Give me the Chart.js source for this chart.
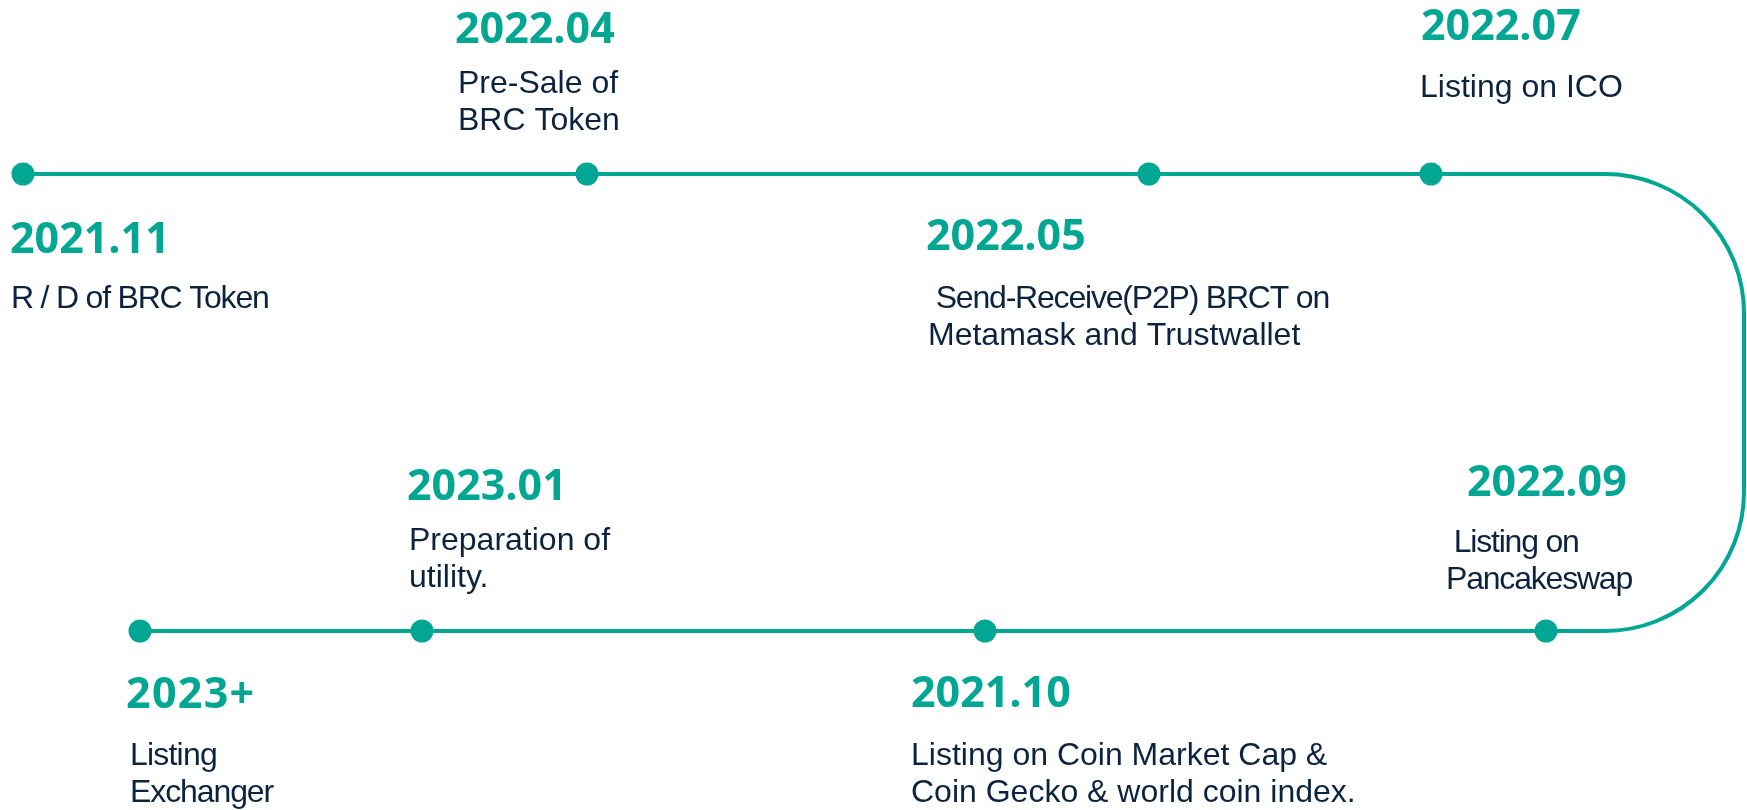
<!DOCTYPE html>
<html>
<head>
<meta charset="utf-8">
<script src="https://cdn.jsdelivr.net/npm/chart.js@4/dist/chart.umd.min.js"></script>
<style>
  html, body { margin: 0; padding: 0; background: #ffffff; }
  #wrap { width: 1747px; height: 810px; }
</style>
</head>
<body>
<div id="wrap"><canvas id="c" width="1747" height="810"></canvas></div>
<script>
// ---- data ----
const events = ['2021.11', '2022.04', '2022.05', '2022.07', '2022.09', '2021.10', '2023.01', '2023+'];
const descriptions = [
  ['R / D of BRC Token'],
  ['Pre-Sale of', 'BRC Token'],
  [' Send-Receive(P2P) BRCT on', 'Metamask and Trustwallet'],
  ['Listing on ICO'],
  [' Listing on', 'Pancakeswap'],
  ['Listing on Coin Market Cap &', 'Coin Gecko & world coin index.'],
  ['Preparation of', 'utility.'],
  ['Listing', 'Exchanger']
];
const timelinePos = [23, 587, 1149, 1431, 1546, 985, 422, 140];
const timelineRow = [174, 174, 174, 174, 631, 631, 631, 631];

// ---- layout (text placement, not data) ----
const yearAt = [[10, 253], [455, 43], [926, 250], [1421, 40], [1467, 496], [911, 707], [407, 500], [126, 708]];
const yearSpacing = [0, 0, 0, 0, 0, 0, 0, 1.3];
const descAt = [[11, 308], [458, 93], [928, 308], [1420, 97], [1446, 552], [911, 765], [409, 550], [130, 765]];
// letter spacing per description line
const descSpacing = [[-1.2], [0, 0], [-1.2, 0], [0], [-1.2, -1.2], [0, 0], [0, 0], [-0.8, -1.1]];
const lineGap = 37;
const turnRight = 1744;
const turnRadius = 139;

const TEAL = '#02a793';
const NAVY = '#0c2340';

const trackPlugin = {
  id: 'track',
  beforeDatasetsDraw(chart) {
    const { ctx, scales: { x, y } } = chart;
    const top = y.getPixelForValue(timelineRow[0]);
    const bot = y.getPixelForValue(timelineRow[timelineRow.length - 1]);
    const x0 = x.getPixelForValue(timelinePos[0]);
    const xEnd = x.getPixelForValue(timelinePos[timelinePos.length - 1]);
    const right = x.getPixelForValue(turnRight);
    const r = turnRadius;
    ctx.save();
    ctx.strokeStyle = TEAL;
    ctx.lineWidth = 4;
    ctx.lineJoin = 'round';
    ctx.beginPath();
    ctx.moveTo(x0, top);
    ctx.lineTo(right - r, top);
    ctx.arcTo(right, top, right, top + r, r);
    ctx.lineTo(right, bot - r);
    ctx.arcTo(right, bot, right - r, bot, r);
    ctx.lineTo(xEnd, bot);
    ctx.stroke();
    ctx.restore();
  }
};

const textPlugin = {
  id: 'texts',
  afterDatasetsDraw(chart) {
    const { ctx } = chart;
    ctx.save();
    ctx.textAlign = 'left';
    ctx.textBaseline = 'alphabetic';
    events.forEach((ev, i) => {
      ctx.letterSpacing = yearSpacing[i] + 'px';
      ctx.fillStyle = TEAL;
      ctx.font = 'bold 43px "Open Sans"';
      ctx.fillText(ev, yearAt[i][0], yearAt[i][1]);
      ctx.fillStyle = NAVY;
      ctx.font = '32px "Liberation Sans", Arial, sans-serif';
      descriptions[i].forEach((line, j) => {
        ctx.letterSpacing = descSpacing[i][j] + 'px';
        ctx.fillText(line, descAt[i][0], descAt[i][1] + j * lineGap);
      });
    });
    ctx.restore();
  }
};

new Chart(document.getElementById('c'), {
  type: 'scatter',
  data: {
    labels: events,
    datasets: [{
      label: 'Roadmap',
      data: timelinePos.map((v, i) => ({ x: v, y: timelineRow[i] })),
      backgroundColor: TEAL,
      borderColor: TEAL,
      pointRadius: 11.5,
      pointHoverRadius: 11.5,
      borderWidth: 0,
      showLine: false,
      clip: false
    }]
  },
  options: {
    responsive: false,
    animation: false,
    devicePixelRatio: 1,
    layout: { padding: 0, autoPadding: false },
    plugins: { legend: { display: false }, tooltip: { enabled: false } },
    events: [],
    scales: {
      x: { type: 'linear', min: 0, max: 1747, display: false },
      y: { type: 'linear', min: 0, max: 810, reverse: true, display: false }
    }
  },
  plugins: [trackPlugin, textPlugin]
});
</script>
</body>
</html>
